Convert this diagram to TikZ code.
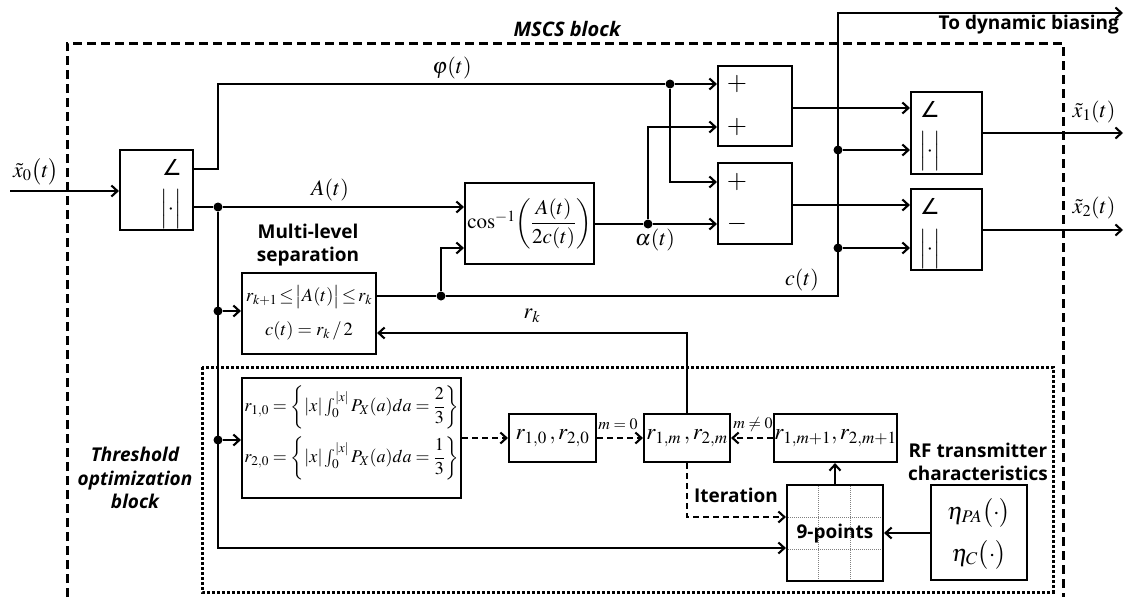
\documentclass[tikz,border=0pt]{standalone}
\usepackage{amsmath}
\usepackage{mathptmx}
\usepackage{fontspec}
\newfontfamily\labf{Open Sans}
\newfontfamily\djv{DejaVu Sans}
\usetikzlibrary{arrows.meta,calc}
\begin{document}
\begin{tikzpicture}[x=1pt,y=-1pt,
  arr/.style={line width=2.1pt,-{Straight Barb[length=6pt,width=11pt]}},
  darr/.style={arr,dash pattern=on 6pt off 4pt},
  blk/.style={draw,line width=2.1pt,inner sep=0pt},
  dot/.style={circle,fill,inner sep=0pt,minimum size=9pt},
  mth/.style={inner sep=0pt,font=\fontsize{22}{26}\selectfont},
  sym/.style={inner sep=0pt,font=\fontsize{26}{30}\selectfont},
  ang/.style={inner sep=0pt,font=\djv\fontsize{22}{26}\selectfont},
  smth/.style={inner sep=0pt,font=\fontsize{18.5}{22}\selectfont},
  bl/.style={inner sep=0pt,font=\labf\bfseries\fontsize{19}{23}\selectfont},
  bli/.style={inner sep=0pt,font=\labf\bfseries\itshape\fontsize{19}{23.5}\selectfont},
  grid9/.style={line width=0.7pt,gray,dash pattern=on 1pt off 1pt},
]
\useasboundingbox (0,0) rectangle (1126,597);
% enclosing blocks
\draw[line width=3pt,dash pattern=on 9pt off 5pt] (67,597) -- (67,43) -- (1063,43) -- (1063,597);
\draw[line width=3pt,dash pattern=on 2.6pt off 2.4pt] (202,367) rectangle (1053,592);

% blocks
\node[blk,minimum width=73pt,minimum height=80pt] (pol) at (156.5,190) {};
\node[ang] (pola) at (172,167) {∠};
\node[mth] (polm) at (171,209) {$\Bigl|\cdot\Bigr|$};

\node[blk,minimum width=74pt,minimum height=80pt] (plus) at (755,106) {};
\node[sym] (pp1) at (737,84) {$+$};
\node[sym] (pp2) at (737,127) {$+$};
\node[blk,minimum width=74pt,minimum height=81pt] (minus) at (755,203.5) {};
\node[sym] (mp1) at (737,182) {$+$};
\node[sym] (mp2) at (737,224) {$-$};

\node[blk,minimum width=71pt,minimum height=82pt] (b1) at (946.5,133) {};
\node[ang] (b1a) at (930,109) {∠};
\node[mth] (b1m) at (930,151) {$\Bigl|\cdot\Bigr|$};
\node[blk,minimum width=71pt,minimum height=81pt] (b2) at (946.5,229.5) {};
\node[ang] (b2a) at (930,206) {∠};
\node[mth] (b2m) at (930,249) {$\Bigl|\cdot\Bigr|$};

\node[blk,minimum width=129pt,minimum height=81pt,font=\fontsize{21}{25}\selectfont] (cosb) at (529.5,223.5)
  {$\cos^{-1}\!\left(\dfrac{A(t)}{2c(t)}\right)$};

\node[blk,minimum width=134pt,minimum height=81pt] (ml) at (309,313.5) {};
\node[smth] (ml1) at (309,297) {$r_{k+1}\!\leq\!\bigl|A(t)\bigr|\!\leq\! r_k$};
\node[smth] (ml2) at (309,331) {$c(t)=r_k\,/\,2$};

\node[blk,minimum width=219pt,minimum height=120pt] (fb) at (351.5,438) {};
\node[inner sep=0pt,font=\fontsize{18}{22}\selectfont] (fb1) at (351.5,407)
  {$r_{1,0}=\left\{|x|\int_0^{|x|}P_X(a)da=\dfrac{2}{3}\right\}$};
\node[inner sep=0pt,font=\fontsize{18}{22}\selectfont] (fb2) at (351.5,458)
  {$r_{2,0}=\left\{|x|\int_0^{|x|}P_X(a)da=\dfrac{1}{3}\right\}$};

\node[blk,minimum width=87pt,minimum height=48pt,font=\fontsize{23}{26}\selectfont] (r0) at (552.5,438) {$r_{1,0}\,,r_{2,0}$};
\node[blk,minimum width=86pt,minimum height=48pt,font=\fontsize{23}{26}\selectfont] (rm) at (687,438) {$r_{1,m}\,,r_{2,m}$};
\node[blk,minimum width=115pt,minimum height=48pt,font=\fontsize{23}{26}\selectfont] (rm1) at (835.5,438) {$r_{1,m+1},r_{2,m+1}$};

\node[blk,minimum width=96pt,minimum height=96pt] (nine) at (835,533) {};
\draw[grid9] (818,486) -- (818,580);
\draw[grid9] (850,486) -- (850,580);
\draw[grid9] (788,517) -- (882,517);
\draw[grid9] (788,549) -- (882,549);
\node[bl] (ninet) at (835,534) {9-points};

\node[blk,minimum width=96pt,minimum height=95pt] (rf) at (979,532.5) {};
\node[inner sep=0pt,font=\fontsize{24}{28}\selectfont] (rf1) at (979,513) {$\eta_{PA}\bigl(\cdot\bigr)$};
\node[inner sep=0pt,font=\fontsize{24}{28}\selectfont] (rf2) at (979,555) {$\eta_{C}\bigl(\cdot\bigr)$};

% junctions
\coordinate (in0) at (10,191);
\coordinate (ph1) at (218,169);
\coordinate (ph2) at (218,84);
\node[dot] (dphi) at (670,84) {};
\coordinate (ph3) at (670,182);
\node[dot] (dA) at (218,207) {};
\node[dot] (dml) at (218,311) {};
\node[dot] (dfb) at (218,440) {};
\coordinate (vbot) at (218,548);
\coordinate (c0) at (376,296);
\node[dot] (dc) at (441,296) {};
\coordinate (c1) at (441,248);
\coordinate (cv) at (838,296);
\coordinate (ctop) at (838,13);
\coordinate (cend) at (1123,13);
\node[dot] (db1) at (838,150) {};
\node[dot] (db2) at (838,248) {};
\node[dot] (dal) at (648,224) {};
\coordinate (al1) at (648,127);
\coordinate (po) at (792,108);
\coordinate (mo) at (792,205);
\coordinate (o1) at (1123,133);
\coordinate (o2) at (1123,230);
\coordinate (rk1) at (687,333);
\coordinate (it1) at (687,517);

% connectors
\draw[arr] (in0) -- (in0 -| pol.west);
\draw[arr] (pol.east |- ph1) -- (ph1) -- (ph2) -- (dphi) -- (dphi -| plus.west);
\draw[arr] (dphi) -- (ph3) -- (ph3 -| minus.west);
\draw[arr] (pol.east |- dA) -- (dA) -- (dA -| cosb.west);
\draw[arr] (dA) -- (vbot) -- (vbot -| nine.west);
\draw[arr] (dml) -- (dml -| ml.west);
\draw[arr] (dfb) -- (dfb -| fb.west);
\draw[arr] (ml.east |- c0) -- (dc) -- (cv) -- (ctop) -- (cend);
\draw[arr] (dc) -- (c1) -- (c1 -| cosb.west);
\draw[arr] (db1) -- (db1 -| b1.west);
\draw[arr] (db2) -- (db2 -| b2.west);
\draw[arr] (cosb.east |- dal) -- (dal) -- (dal -| minus.west);
\draw[arr] (dal) -- (al1) -- (al1 -| plus.west);
\draw[arr] (plus.east |- po) -- (po -| b1.west);
\draw[arr] (minus.east |- mo) -- (mo -| b2.west);
\draw[arr] (b1.east |- o1) -- (o1);
\draw[arr] (b2.east |- o2) -- (o2);
\draw[arr] (rm.north) -- (rk1) -- (rk1 -| ml.east);
\draw[darr] (fb.east) -- (fb.east -| r0.west);
\draw[darr] (r0.east) -- (rm.west);
\draw[darr] (rm1.west) -- (rm.east);
\draw[arr] (nine.north) -- (nine.north |- rm1.south);
\draw[darr] (rm.south) -- (it1) -- (it1 -| nine.west);
\draw[arr] (rf.west |- nine.east) -- (nine.east);

% labels
\node[mth] (lx0) at (36,172) {$\tilde{x}_0\bigl(t\bigr)$};
\node[mth] (lphi) at (452,68) {$\varphi(t)$};
\node[mth] (lA) at (330,190) {$A(t)$};
\node[mth] (lal) at (655,240) {$\alpha(t)$};
\node[mth] (lc) at (802,280) {$c(t)$};
\node[mth] (lrk) at (532,316) {$r_k$};
\node[mth] (lx1) at (1094,112) {$\tilde{x}_1(t)$};
\node[mth] (lx2) at (1094,208) {$\tilde{x}_2(t)$};
\node[inner sep=0pt,font=\labf\bfseries\itshape\fontsize{20}{24}\selectfont] (lmscs) at (567,29) {MSCS block};
\node[bl,anchor=east] (ldyn) at (1119,25) {To dynamic biasing};
\node[bl,align=center] (lmls) at (308,245) {Multi-level\\separation};
\node[bli,align=center] (lthr) at (135,478) {Threshold\\optimization\\block};
\node[bl] (lit) at (736,495) {Iteration};
\node[bl,align=center] (lrf) at (978,462) {RF transmitter\\characteristics};
\node[inner sep=0pt,font=\fontsize{16}{18}\selectfont] (lm0) at (618,424) {$m=0$};
\node[inner sep=0pt,font=\fontsize{16}{18}\selectfont] (lm1) at (753,424) {$m\neq0$};
\end{tikzpicture}
\end{document}
